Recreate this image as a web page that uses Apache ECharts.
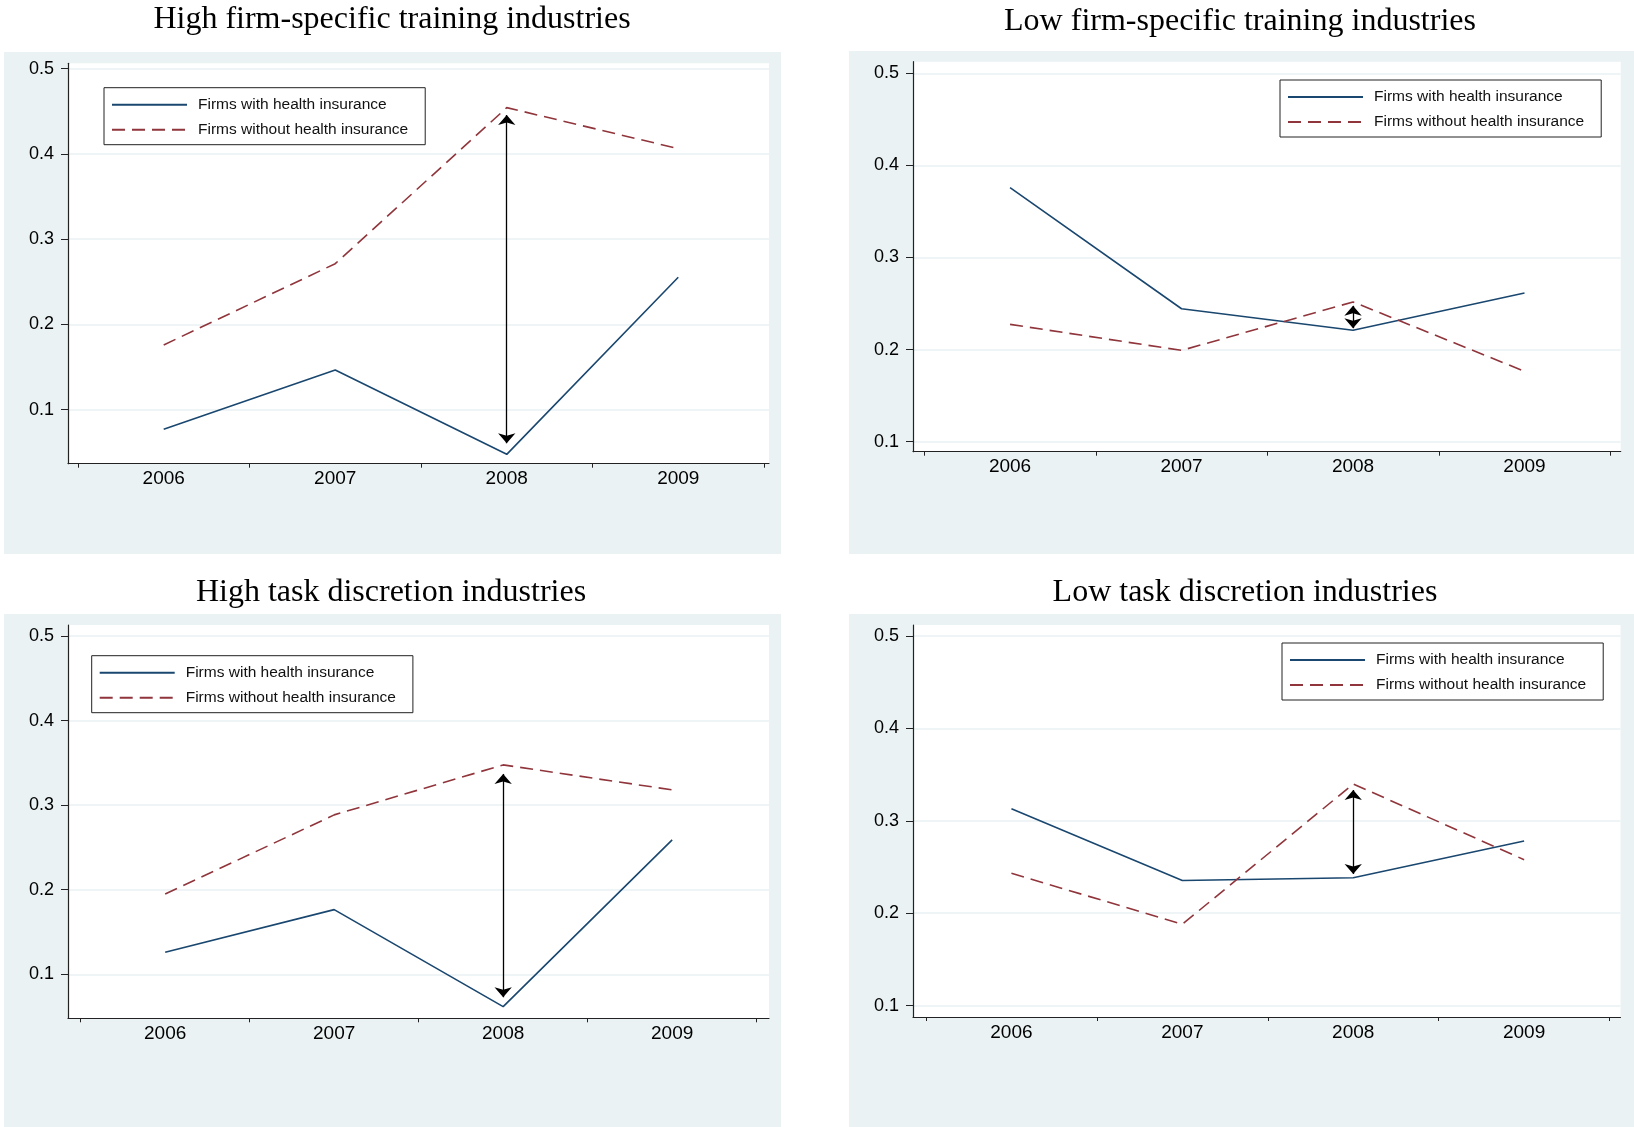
<!DOCTYPE html>
<html>
<head>
<meta charset="utf-8">
<script src="https://cdn.jsdelivr.net/npm/echarts@6/dist/echarts.min.js"></script>
<style>
html,body{margin:0;padding:0;background:#fff;}
#chart{width:1634px;height:1127px;}
</style>
</head>
<body>
<div id="chart"></div>
<script>
// ---- data ----
const years = [2006, 2007, 2008, 2009];
const yTicks = [0.1, 0.2, 0.3, 0.4, 0.5];
const xTicks = [2005.5, 2006.5, 2007.5, 2008.5, 2009.5];
const panelTitles = [
  'High firm-specific training industries',
  'Low firm-specific training industries',
  'High task discretion industries',
  'Low task discretion industries'
];
const seriesNames = ['Firms with health insurance', 'Firms without health insurance'];

const highTrainWith    = [0.077, 0.1466, 0.0477, 0.2554];
const highTrainWithout = [0.176, 0.2713, 0.4543, 0.4062];
const lowTrainWith     = [0.3758, 0.2443, 0.221, 0.2614];
const lowTrainWithout  = [0.2274, 0.1991, 0.2517, 0.1764];
const highTaskWith     = [0.126, 0.1765, 0.0618, 0.2589];
const highTaskWithout  = [0.1949, 0.2885, 0.3476, 0.3181];
const lowTaskWith      = [0.3131, 0.2353, 0.2384, 0.2781];
const lowTaskWithout   = [0.2432, 0.188, 0.3398, 0.2579];

// arrow (gap annotation at 2008): top and bottom ends
const arrowYear = 2008;
const arrowTop    = [0.4457, 0.2475, 0.3369, 0.3333];
const arrowBottom = [0.0606, 0.2232, 0.0729, 0.2424];

// ---- layout ----
const panels = [
  {w: highTrainWith, wo: highTrainWithout,
   bg: [4, 52, 777, 502], title: [392, 20],
   grid: {left: 68, top: 63.3, width: 701, height: 400.4},
   x: [2005.442, 2009.529], y: [0.0367, 0.5063],
   legend: {left: 104, top: 87.7}},
  {w: lowTrainWith, wo: lowTrainWithout,
   bg: [849, 51, 785, 503], title: [1240, 22],
   grid: {left: 913, top: 61.7, width: 707.7, height: 390},
   x: [2005.434, 2009.561], y: [0.0891, 0.5126],
   legend: {left: 1280, top: 80}},
  {w: highTaskWith, wo: highTaskWithout,
   bg: [4, 614, 777, 513], title: [391, 593],
   grid: {left: 68, top: 625, width: 701, height: 393.3},
   x: [2005.425, 2009.573], y: [0.048, 0.513],
   legend: {left: 91.7, top: 655.7}},
  {w: lowTaskWith, wo: lowTaskWithout,
   bg: [849, 614, 785, 513], title: [1245, 593],
   grid: {left: 913, top: 625, width: 707.5, height: 392},
   x: [2005.424, 2009.564], y: [0.0876, 0.5119],
   legend: {left: 1282, top: 643}}
];

const NAVY = '#1a476f', MAROON = '#90353b', BG = '#eaf2f3';
const grids = [], xAxes = [], yAxes = [], series = [], legends = [], graphics = [];

panels.forEach((p, i) => {
  graphics.push({type: 'rect', z: -10, silent: true,
    shape: {x: p.bg[0], y: p.bg[1], width: p.bg[2], height: p.bg[3]},
    style: {fill: BG}});
  graphics.push({type: 'text', z: 10, silent: true,
    x: p.title[0], y: p.title[1],
    style: {text: panelTitles[i], fill: '#000', font: '32px "Liberation Serif"',
      align: 'center', verticalAlign: 'middle'}});
  grids.push(Object.assign({show: true, backgroundColor: '#fff', borderWidth: 0}, p.grid));
  xAxes.push({type: 'value', gridIndex: i, min: p.x[0], max: p.x[1],
    axisLine: {show: true, onZero: false, lineStyle: {color: '#222', width: 1.2}},
    axisTick: {show: true, length: 4, customValues: xTicks, lineStyle: {color: '#222'}},
    axisLabel: {customValues: years, margin: 6, color: '#000', fontSize: 19,
      fontFamily: 'Liberation Sans', formatter: v => String(Math.round(v))},
    splitLine: {show: false}});
  yAxes.push({type: 'value', gridIndex: i, min: p.y[0], max: p.y[1],
    axisLine: {show: true, onZero: false, lineStyle: {color: '#222', width: 1.2}},
    axisTick: {show: true, length: 7, customValues: yTicks, lineStyle: {color: '#222'}},
    axisLabel: {customValues: yTicks, margin: 14, color: '#000', fontSize: 18,
      fontFamily: 'Liberation Sans', formatter: v => (Math.round(v * 10) / 10).toString()},
    splitLine: {show: true, lineStyle: {color: BG, width: 1.5}}});
  series.push({name: seriesNames[0], type: 'line', xAxisIndex: i, yAxisIndex: i,
    data: years.map((y, k) => [y, p.w[k]]), symbol: 'none', silent: true,
    lineStyle: {color: NAVY, width: 1.6}, itemStyle: {color: NAVY},
    markLine: {silent: true, symbol: ['arrow', 'arrow'], symbolSize: [13, 10],
      label: {show: false}, emphasis: {disabled: true},
      lineStyle: {color: '#000', width: 1.3, type: 'solid'},
      data: [[{coord: [arrowYear, arrowTop[i]]}, {coord: [arrowYear, arrowBottom[i]]}]]}});
  series.push({name: seriesNames[1], type: 'line', xAxisIndex: i, yAxisIndex: i,
    data: years.map((y, k) => [y, p.wo[k]]), symbol: 'none', silent: true,
    lineStyle: {color: MAROON, width: 1.6, type: [13, 7]}, itemStyle: {color: MAROON}});
  legends.push({left: p.legend.left, top: p.legend.top, orient: 'vertical',
    data: seriesNames, selectedMode: false, itemWidth: 75, itemHeight: 14, itemGap: 9,
    padding: [9, 17, 7, 7], borderColor: '#222', borderWidth: 1, backgroundColor: '#fff',
    itemStyle: {color: 'rgba(0,0,0,0)', borderColor: 'rgba(0,0,0,0)', borderWidth: 0, opacity: 0},
    textStyle: {fontFamily: 'Liberation Sans', fontSize: 15.5, color: '#111', padding: [0, 0, 0, 6]}});
});

const chart = echarts.init(document.getElementById('chart'), null, {renderer: 'canvas'});
chart.setOption({
  animation: false,
  backgroundColor: '#fff',
  graphic: graphics,
  grid: grids,
  xAxis: xAxes,
  yAxis: yAxes,
  legend: legends,
  series: series
});
</script>
</body>
</html>
